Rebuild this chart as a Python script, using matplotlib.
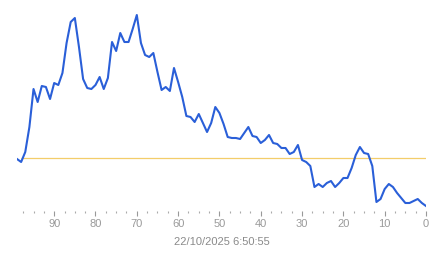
import matplotlib
matplotlib.use("Agg")
import matplotlib.pyplot as plt
from matplotlib.ticker import MultipleLocator

plt.rcParams['font.family'] = ['Liberation Sans', 'DejaVu Sans']

# x positions (counting down to 0) and series values (arbitrary units)
x_vals = list(range(99, -1, -1))
y_vals = [51, 48, 58, 83, 121, 108, 124, 123, 111, 127,
          125, 137, 167, 188, 192, 163, 131, 122, 121, 125,
          133, 121, 132, 168, 159, 177, 168, 168, 181, 195,
          167, 155, 153, 157, 138, 120, 123, 119, 142, 128,
          113, 94, 93, 88, 96, 87, 78, 87, 103, 97,
          86, 73, 72, 72, 71, 77, 83, 74, 73, 67,
          70, 75, 67, 66, 62, 62, 56, 58, 65, 50,
          48, 44, 23, 26, 23, 27, 29, 23, 27, 32,
          32, 42, 55, 63, 57, 56, 44, 8, 11, 21,
          26, 23, 17, 12, 7, 7, 9, 11, 7, 4]
ref_value = 52
ref_x = [98, 0]
x_tick_labels = ['90', '80', '70', '60', '50', '40', '30', '20', '10', '0']
x_ticks = [90, 80, 70, 60, 50, 40, 30, 20, 10, 0]
timestamp = '22/10/2025 6:50:55'

W, H = 443, 258
fig = plt.figure(figsize=(W / 100, H / 100), dpi=100)
left, right, top, bottom = 17, 426, 10, 211
ax = fig.add_axes([left / W, 1 - bottom / H, (right - left) / W, (bottom - top) / H])

ax.hlines(ref_value, ref_x[0], ref_x[1], color='#f3cd6a', lw=0.9, zorder=1)
ax.plot(x_vals, y_vals, color='#2a5fd8', lw=1.5, solid_joinstyle='round', zorder=2)

ax.set_xlim(99, 0)
ax.set_ylim(-1, 200)
for s in ax.spines.values():
    s.set_visible(False)
ax.set_yticks([])
ax.set_xticks(x_ticks)
ax.set_xticklabels(x_tick_labels)
ax.xaxis.set_minor_locator(MultipleLocator(2.5))
ax.tick_params(axis='x', which='major', length=3.5, width=0.8, color='#999999',
               labelcolor='#9a9a9a', labelsize=8, pad=2)
ax.tick_params(axis='x', which='minor', length=1.2, width=0.8, color='#aaaaaa')
ax.set_xlim(99, 0)

fig.text(222 / W, 1 - 242 / H, timestamp, ha='center', va='center',
         fontsize=8, color='#8a8a8a')

fig.savefig('out.png', dpi=100)
